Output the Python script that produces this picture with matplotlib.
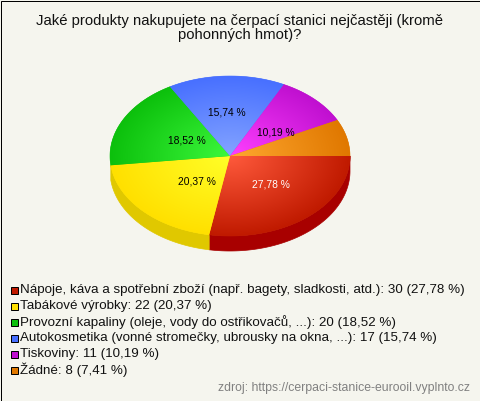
import numpy as np
import matplotlib
matplotlib.use("Agg")
import matplotlib.pyplot as plt
from matplotlib.colors import to_rgb
from matplotlib.patches import Polygon, Rectangle

plt.rcParams["font.family"] = ["Liberation Sans", "DejaVu Sans"]

title = "Jaké produkty nakupujete na čerpací stanici nejčastěji (kromě\npohonných hmot)?"
source = "zdroj: https://cerpaci-stanice-eurooil.vyplnto.cz"

names = [
    "Nápoje, káva a spotřební zboží (např. bagety, sladkosti, atd.)",
    "Tabákové výrobky",
    "Provozní kapaliny (oleje, vody do ostřikovačů, ...)",
    "Autokosmetika (vonné stromečky, ubrousky na okna, ...)",
    "Tiskoviny",
    "Žádné",
]
counts = [30, 22, 20, 17, 11, 8]
percents = ["27,78", "20,37", "18,52", "15,74", "10,19", "7,41"]

# colours: rim of the slice, middle of the pie, side wall (None = no wall drawn)
rim_colors = ["#C01A00", "#FFE000", "#0CC00C", "#4870FF", "#C010D0", "#E07800"]
mid_colors = ["#FF5A3C", "#FFFF28", "#3CF83C", "#84A4FF", "#FF40FF", "#FFA830"]
side_colors = ["#A80000", "#E0C800", None, None, None, None]
legend_colors = ["#C01A00", "#FFE000", "#0CC00C", "#4870FF", "#C010D0", "#E07800"]

# where the slice labels sit, as a share of the radius
label_fx = [0.53, 0.38, 0.40, 1.0, 0.54, None]
label_fy = [0.47, 0.47, 0.42, 0.54, 0.41, None]
label_colors = ["white", "black", "black", "black", "black", None]

cx, cy = 230, 156
rx, ry = 120, 80
depth = 15
bg = "#F5F5EE"

fig = plt.figure(figsize=(4.8, 4.01), dpi=100, facecolor=bg)
ax = fig.add_axes([0, 0, 1, 1])
ax.set_xlim(0, 480)
ax.set_ylim(401, 0)
ax.axis("off")

# slice angles, clockwise on screen from the east
edges = np.concatenate([[0], np.cumsum(counts)]) / sum(counts) * 360


def ellipse(a, b, dy=0):
    t = np.radians(np.linspace(a, b, max(int(b - a) * 2, 2)))
    return np.column_stack([cx + rx * np.cos(t), cy + dy + ry * np.sin(t)])


# side wall
for i in range(len(counts)):
    if side_colors[i] is None:
        continue
    top = ellipse(edges[i], edges[i + 1])
    bottom = ellipse(edges[i], edges[i + 1], depth)[::-1]
    ax.add_patch(Polygon(np.vstack([top, bottom]), closed=True, fc=side_colors[i],
                         ec=side_colors[i], lw=0.5, zorder=1))

# top face, radial gradient clipped to each slice
xx, yy = np.meshgrid(np.arange(cx - rx, cx + rx + 1), np.arange(cy - ry, cy + ry + 1))
dist = np.clip(np.hypot((xx - cx) / rx, (yy - cy) / ry), 0, 1)
extent = (cx - rx, cx + rx, cy + ry, cy - ry)

for i in range(len(counts)):
    rim = np.array(to_rgb(rim_colors[i]))
    mid = np.array(to_rgb(mid_colors[i]))
    rgb = mid + (rim - mid) * dist[..., None]
    pts = np.vstack([[cx, cy], ellipse(edges[i], edges[i + 1])])
    poly = Polygon(pts, closed=True, fc=rim_colors[i], ec=rim_colors[i], lw=0.4, zorder=2)
    ax.add_patch(poly)
    im = ax.imshow(rgb, extent=extent, origin="upper", aspect="auto", zorder=3,
                   interpolation="bilinear")
    im.set_clip_path(Polygon(pts, closed=True, transform=ax.transData))

ax.set_xlim(0, 480)
ax.set_ylim(401, 0)

# labels on the slices
for i in range(len(counts)):
    if label_fx[i] is None:
        continue
    mid_angle = np.radians((edges[i] + edges[i + 1]) / 2)
    x = cx + rx * label_fx[i] * np.cos(mid_angle)
    y = cy + ry * label_fy[i] * np.sin(mid_angle)
    ax.text(x, y, percents[i] + " %", fontsize=7.4, color=label_colors[i],
            ha="center", va="center", zorder=5)

ax.text(240, 28, title, fontsize=10.7, ha="center", va="center", linespacing=0.98, color="#111111")

# legend
for i in range(len(counts)):
    y = 290 + i * 15.9
    ax.add_patch(Rectangle((10.5, round(y) - 3.5), 7, 7, fc=legend_colors[i], ec="black",
                           lw=0.72, zorder=4, snap=True, joinstyle="miter"))
    ax.text(20, y, f"{names[i]}: {counts[i]} ({percents[i]} %)", fontsize=9.6,
            ha="left", va="center", color="#111111")

ax.text(470, 388, source, fontsize=8.8, ha="right", va="center", color="#808080")

# frame
ax.add_patch(Rectangle((0.5, 0.5), 479, 400, fc="none", ec="black", lw=0.72, zorder=6))

fig.savefig("out.png", dpi=100, facecolor=bg)
